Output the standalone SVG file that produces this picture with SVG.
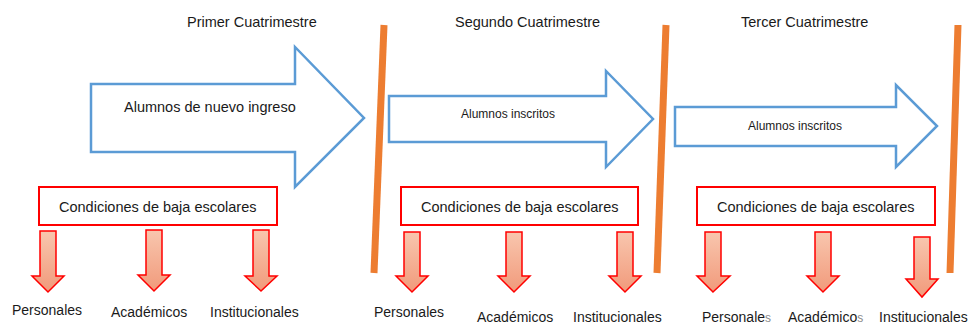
<svg xmlns="http://www.w3.org/2000/svg" width="972" height="325" viewBox="0 0 972 325">
<style>
.t{font-family:"Liberation Sans",Arial,sans-serif;fill:#1a1a1a}
.title{font-size:14.5px}
.big{font-size:14.5px}
.small{font-size:12px}
.lbl{font-size:14px}
.blue{fill:#fff;stroke:#5b9bd5;stroke-width:2.5;stroke-linejoin:miter}
.box{fill:#fff;stroke:#ff0000;stroke-width:2}
.down{fill:url(#g);stroke:#ff0000;stroke-width:1.5;stroke-linejoin:miter}
.sep{stroke:#ed7d31;stroke-width:7;fill:none}
</style>
<defs>
<linearGradient id="g" x1="0" y1="0" x2="0" y2="1">
<stop offset="0" stop-color="#f8c6ae"/>
<stop offset="1" stop-color="#f19a7b"/>
</linearGradient>
</defs>
<rect width="972" height="325" fill="#fff"/>
<g id="connectors">
<line class="sep" x1="384" y1="25" x2="374" y2="273"/>
<line class="sep" x1="666" y1="25" x2="657" y2="273"/>
<line class="sep" x1="958" y1="25" x2="950" y2="273"/>
</g>
<g id="titles">
<text class="t title" x="187" y="27">Primer Cuatrimestre</text>
<text class="t title" x="455" y="27">Segundo Cuatrimestre</text>
<text class="t title" x="741" y="27">Tercer Cuatrimestre</text>
</g>
<g id="arrow1">
<polygon class="blue" points="91,84 295,84 295,47 364,118 295,187 295,152 91,152"/>
<text class="t big" x="124" y="112">Alumnos de nuevo ingreso</text>
</g>
<g id="arrow2">
<polygon class="blue" points="389,96 606,96 606,71 653,119 606,167 606,142 389,142"/>
<text class="t small" x="461" y="118">Alumnos inscritos</text>
</g>
<g id="arrow3">
<polygon class="blue" points="675,107 896,107 896,85 937,126 896,167 896,146 675,146"/>
<text class="t small" x="748" y="130">Alumnos inscritos</text>
</g>
<g id="box1">
<rect class="box" x="39" y="187" width="238" height="38"/>
<text class="t big" x="59" y="212">Condiciones de baja escolares</text>
</g>
<g id="box2">
<rect class="box" x="401" y="187" width="237" height="38"/>
<text class="t big" x="421" y="212">Condiciones de baja escolares</text>
</g>
<g id="box3">
<rect class="box" x="697" y="187" width="238" height="38"/>
<text class="t big" x="717" y="212">Condiciones de baja escolares</text>
</g>
<g id="c1-personales">
<polygon class="down" points="40,231 56,231 56,276 64,276 48,292 32,276 40,276"/>
<text class="t lbl" x="12" y="315">Personales</text>
</g>
<g id="c1-academicos">
<polygon class="down" points="146,230 162,230 162,275 170,275 154,291 138,275 146,275"/>
<text class="t lbl" x="111" y="317">Académicos</text>
</g>
<g id="c1-institucionales">
<polygon class="down" points="253,230 269,230 269,276 277,276 261,291 245,276 253,276"/>
<text class="t lbl" x="210" y="317">Institucionales</text>
</g>
<g id="c2-personales">
<polygon class="down" points="404,232 420,232 420,276 428,276 412,292 396,276 404,276"/>
<text class="t lbl" x="374" y="317">Personales</text>
</g>
<g id="c2-academicos">
<polygon class="down" points="506,232 522,232 522,276 530,276 514,292 498,276 506,276"/>
<text class="t lbl" x="477" y="322">Académicos</text>
</g>
<g id="c2-institucionales">
<polygon class="down" points="617,232 633,232 633,276 641,276 625,292 609,276 617,276"/>
<text class="t lbl" x="573" y="322">Institucionales</text>
</g>
<g id="c3-personales">
<polygon class="down" points="705,232 721,232 721,276 730,276 713,292 697,276 705,276"/>
<text class="t lbl" x="702" y="322">Personale<tspan fill="#8a8a8a" font-size="12px">s</tspan></text>
</g>
<g id="c3-academicos">
<polygon class="down" points="815,232 831,232 831,276 839,276 823,292 807,276 815,276"/>
<text class="t lbl" x="788" y="322">Académico<tspan fill="#8a8a8a" font-size="12px">s</tspan></text>
</g>
<g id="c3-institucionales">
<polygon class="down" points="914,237 930,237 930,279 938,279 922,297 906,279 914,279"/>
<text class="t lbl" x="879" y="322">Institucionales</text>
</g>
</svg>
